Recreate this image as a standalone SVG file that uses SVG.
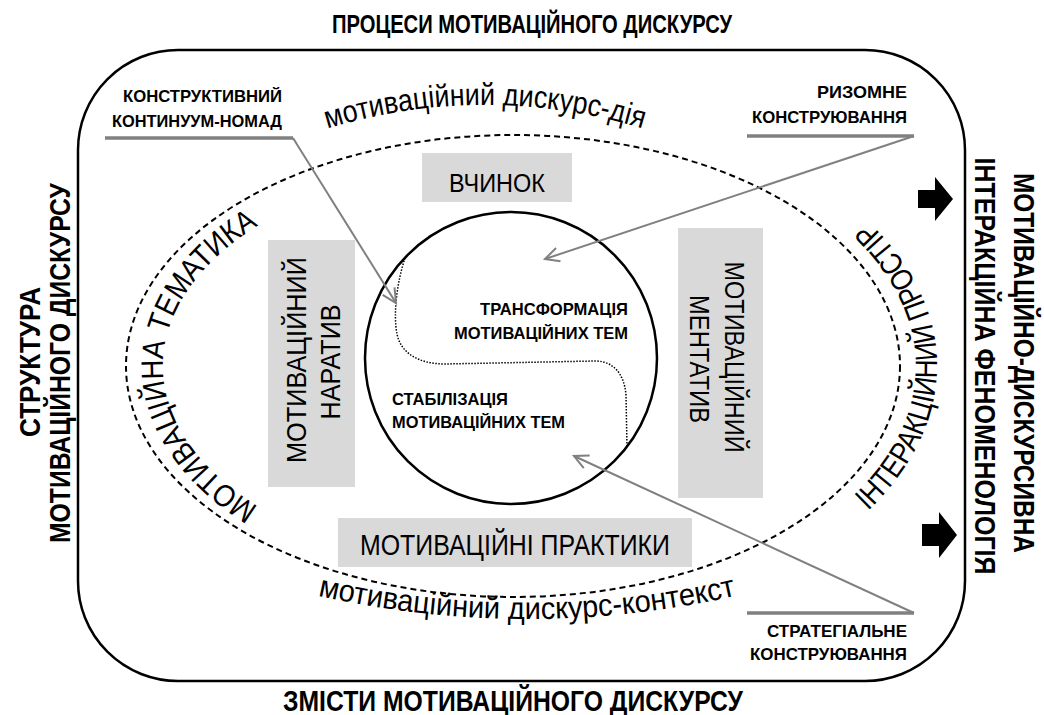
<svg xmlns="http://www.w3.org/2000/svg" width="1044" height="715" viewBox="0 0 1044 715">
<style>
text{font-family:"Liberation Sans Narrow","Liberation Sans",Arial,sans-serif;fill:#000}
.b{font-weight:bold}
.title{font-weight:bold;font-size:29px}
.call{font-weight:bold;font-size:17px}
.box{fill:#d9d9d9}
.boxt{font-size:28px}
.arc{font-size:31px}
.conn{stroke:#808080;stroke-width:2;fill:none}
.ul{stroke:#808080;stroke-width:3.5;fill:none}
</style>
<defs>
<marker id="ah" markerUnits="userSpaceOnUse" markerWidth="20" markerHeight="20" refX="15" refY="8" orient="auto">
<path d="M1,1 L15,8 L1,15" fill="none" stroke="#808080" stroke-width="2"/>
</marker>
<path id="pTop" d="M185,196 A540,540 0 0,1 785,196"/>
<path id="pBot" d="M227,570.4 A950,950 0 0,0 827,570.4"/>
<path id="pLeft" d="M513,571 A350,205 0 0,1 163,366 A350,205 0 0,1 513,161"/>
<path id="pRight" d="M513,631 A424,265 0 0,0 937,366 A424,265 0 0,0 513,101"/>
</defs>
<rect width="1044" height="715" fill="#fff"/>

<g id="frame">
<rect x="78" y="50" width="887" height="631" rx="100" ry="100" fill="none" stroke="#000" stroke-width="2.5"/>
</g>

<g id="titles">
<text class="b" font-size="25" x="532" y="33" text-anchor="middle" textLength="400" lengthAdjust="spacingAndGlyphs">ПРОЦЕСИ МОТИВАЦІЙНОГО ДИСКУРСУ</text>
<text class="title" x="513" y="711" text-anchor="middle" textLength="460" lengthAdjust="spacingAndGlyphs">ЗМІСТИ МОТИВАЦІЙНОГО ДИСКУРСУ</text>
<text class="title" transform="translate(40,362) rotate(-90)" text-anchor="middle" textLength="150" lengthAdjust="spacingAndGlyphs">СТРУКТУРА</text>
<text class="title" transform="translate(70,363) rotate(-90)" text-anchor="middle" textLength="360" lengthAdjust="spacingAndGlyphs">МОТИВАЦІЙНОГО ДИСКУРСУ</text>
<text class="title" transform="translate(1014,363) rotate(90)" text-anchor="middle" textLength="380" lengthAdjust="spacingAndGlyphs">МОТИВАЦІЙНО-ДИСКУРСИВНА</text>
<text class="title" transform="translate(975,366) rotate(90)" text-anchor="middle" textLength="417" lengthAdjust="spacingAndGlyphs">ІНТЕРАКЦІЙНА ФЕНОМЕНОЛОГІЯ</text>
</g>

<g id="output-arrows">
<polygon points="918,190 935,190 935,177 953,199 935,221 935,208 918,208" fill="#000"/>
<polygon points="922,524 939,524 939,512 957,535 939,558 939,546 922,546" fill="#000"/>
</g>

<g id="ellipse">
<ellipse cx="513" cy="366" rx="387" ry="231" fill="none" stroke="#000" stroke-width="2" stroke-dasharray="6 4"/>
</g>

<g id="arc-labels">
<text class="arc"><textPath href="#pTop" startOffset="50%" text-anchor="middle" textLength="320" lengthAdjust="spacingAndGlyphs">мотиваційний дискурс-дія</textPath></text>
<text class="arc"><textPath href="#pBot" startOffset="50%" text-anchor="middle" textLength="422" lengthAdjust="spacingAndGlyphs">мотиваційний дискурс-контекст</textPath></text>
<text class="arc"><textPath href="#pLeft" startOffset="50%" text-anchor="middle" textLength="355" lengthAdjust="spacingAndGlyphs">МОТИВАЦІЙНА ТЕМАТИКА</textPath></text>
<text class="arc"><textPath href="#pRight" startOffset="50%" text-anchor="middle" textLength="330" lengthAdjust="spacingAndGlyphs">ІНТЕРАКЦІЙНИЙ ПРОСТІР</textPath></text>
</g>

<g id="vchynok">
<rect class="box" x="422" y="153" width="150" height="49"/>
<text font-size="25" x="497" y="192" text-anchor="middle" textLength="96" lengthAdjust="spacingAndGlyphs">ВЧИНОК</text>
</g>

<g id="praktyky">
<rect class="box" x="338" y="518" width="354" height="49"/>
<text font-size="29" x="515" y="555" text-anchor="middle" textLength="310" lengthAdjust="spacingAndGlyphs">МОТИВАЦІЙНІ ПРАКТИКИ</text>
</g>

<g id="naratyv">
<rect class="box" x="268" y="240" width="87" height="247"/>
<text class="boxt" transform="translate(306,360) rotate(-90)" text-anchor="middle" textLength="206" lengthAdjust="spacingAndGlyphs">МОТИВАЦІЙНИЙ</text>
<text class="boxt" transform="translate(340,362) rotate(-90)" text-anchor="middle" textLength="115" lengthAdjust="spacingAndGlyphs">НАРАТИВ</text>
</g>

<g id="mentatyv">
<rect class="box" x="678" y="228" width="85" height="270"/>
<text class="boxt" transform="translate(725,357) rotate(90)" text-anchor="middle" textLength="191" lengthAdjust="spacingAndGlyphs">МОТИВАЦІЙНИЙ</text>
<text class="boxt" transform="translate(690,359) rotate(90)" text-anchor="middle" textLength="128" lengthAdjust="spacingAndGlyphs">МЕНТАТИВ</text>
</g>

<g id="core">
<circle cx="511" cy="358" r="146" fill="none" stroke="#000" stroke-width="2.5"/>
<path d="M405,258 C397,282 393,314 397,334 C401,354 420,364 445,364 L595,361 C612,361 624,372 626,395 L627,447" fill="none" stroke="#000" stroke-width="1.5" stroke-dasharray="1.5 1.5"/>
<text class="call" x="628" y="315" text-anchor="end" textLength="148" lengthAdjust="spacingAndGlyphs">ТРАНСФОРМАЦІЯ</text>
<text class="call" x="628" y="339" text-anchor="end" textLength="174" lengthAdjust="spacingAndGlyphs">МОТИВАЦІЙНИХ ТЕМ</text>
<text class="call" x="392" y="405" textLength="116" lengthAdjust="spacingAndGlyphs">СТАБІЛІЗАЦІЯ</text>
<text class="call" x="392" y="428" textLength="173" lengthAdjust="spacingAndGlyphs">МОТИВАЦІЙНИХ ТЕМ</text>
</g>

<g id="label-nomad">
<text class="call" x="282" y="102" text-anchor="end" textLength="159" lengthAdjust="spacingAndGlyphs">КОНСТРУКТИВНИЙ</text>
<text class="call" x="282" y="127" text-anchor="end" textLength="170" lengthAdjust="spacingAndGlyphs">КОНТИНУУМ-НОМАД</text>
</g>
<g id="label-rhizome">
<text class="call" x="907" y="98" text-anchor="end" textLength="90" lengthAdjust="spacingAndGlyphs">РИЗОМНЕ</text>
<text class="call" x="907" y="123" text-anchor="end" textLength="155" lengthAdjust="spacingAndGlyphs">КОНСТРУЮВАННЯ</text>
</g>
<g id="label-strategic">
<text class="call" x="907" y="637" text-anchor="end" textLength="140" lengthAdjust="spacingAndGlyphs">СТРАТЕГІАЛЬНЕ</text>
<text class="call" x="907" y="660" text-anchor="end" textLength="157" lengthAdjust="spacingAndGlyphs">КОНСТРУЮВАННЯ</text>
</g>

<g id="connectors">
<line class="ul" x1="105" y1="138" x2="293" y2="138"/>
<line class="conn" x1="293" y1="138" x2="396" y2="303" marker-end="url(#ah)"/>
<line class="ul" x1="747" y1="136" x2="914" y2="136"/>
<line class="conn" x1="914" y1="136" x2="545" y2="259" marker-end="url(#ah)"/>
<line class="ul" x1="747" y1="613" x2="914" y2="613"/>
<line class="conn" x1="914" y1="613" x2="574" y2="456" marker-end="url(#ah)"/>
</g>
</svg>
